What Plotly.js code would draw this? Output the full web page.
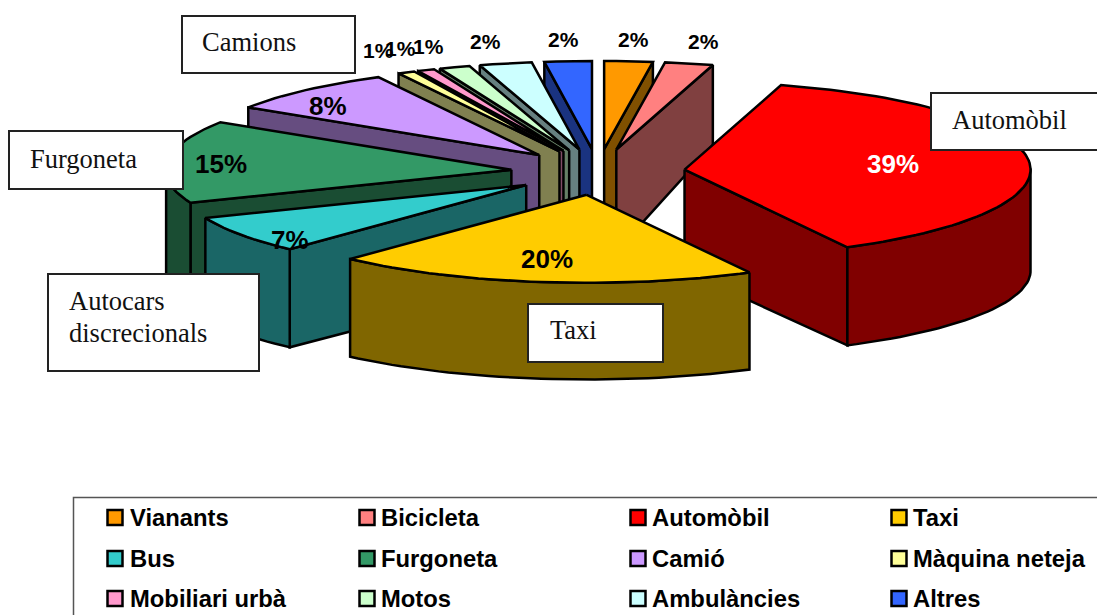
<!DOCTYPE html>
<html>
<head>
<meta charset="utf-8">
<script src="https://cdn.plot.ly/plotly-3.0.1.min.js"></script>
<style>html,body{margin:0;padding:0;background:#fff;overflow:hidden}#chart{width:1097px;height:615px}</style>
</head>
<body>
<div id="chart"></div>
<script>
// ---- data ----
var categories = ['Vianants','Bicicleta','Automòbil','Taxi','Bus','Furgoneta','Camió','Màquina neteja','Mobiliari urbà','Motos','Ambulàncies','Altres'];
var percents   = [2,2,39,20,7,15,8,1,1,1,2,2];

// ---- styles ----
var topColors  = ['#FF9900','#FF8080','#FF0000','#FFCC00','#33CCCC','#339966','#CC99FF','#FFFF99','#FF99CC','#CCFFCC','#CCFFFF','#3366FF'];
var wallColors = ['#805000','#804040','#800000','#806600','#1A6666','#1A4D33','#664D80','#808050','#804D66','#668066','#668080','#1A3380'];

// ---- projection of the exploded 3-D pie ----
var center = {x:598, y:172}, radius = {x:346, y:88}, pull = {x:87, y:23};
var warpIn  = [0,4,43,70,85,93,95,96,98,100];        // perspective foreshortening of the angle
var warpOut = [0,4.5,42.2,68.9,84.1,92.3,93.9,95.35,97.8,100];
function warp(p){
  for (var i=1;i<warpIn.length;i++) if (p<=warpIn[i]) {
    return warpOut[i-1]+(p-warpIn[i-1])/(warpIn[i]-warpIn[i-1])*(warpOut[i]-warpOut[i-1]);
  }
  return p;
}
function depth(y){ return y<=150 ? 79+(y-62)*23/88 : 102-(y-150)*0.04; }
function rad(p){ return warp(p)*3.6*Math.PI/180; }
function rimPoint(a,p){ var t=rad(p); return {x:a.x+radius.x*Math.sin(t), y:a.y-radius.y*Math.cos(t)}; }
function drop(pt){ return {x:pt.x, y:pt.y+depth(pt.y)}; }
function arc(a,p0,p1){ var out=[], n=Math.max(2,Math.ceil((p1-p0)*2));
  for (var i=0;i<=n;i++) out.push(rimPoint(a,p0+(p1-p0)*i/n)); return out; }

var starts=[], sum=0;
percents.forEach(function(v){ starts.push(sum); sum+=v; });

function poly(pts,color,name){
  var xs=pts.map(function(q){return q.x}), ys=pts.map(function(q){return q.y});
  xs.push(xs[0]); ys.push(ys[0]);
  return {type:'scatter',mode:'lines',x:xs,y:ys,fill:'toself',fillcolor:color,name:name,
    line:{color:'#000',width:2.5,shape:'linear'},hoverinfo:'name',showlegend:false};
}

var traces=[];
// back to front
var order=[11,0,1,10,9,8,7,6,5,2,4,3];
order.forEach(function(i){
  var p0=starts[i], p1=starts[i]+percents[i], name=categories[i];
  var midA=rad((p0+p1)/2);
  var apex={x:center.x+pull.x*Math.sin(midA), y:center.y-pull.y*Math.cos(midA)};
  var a0=warp(p0)*3.6, a1=warp(p1)*3.6;
  if (a0>=180 && a0<360) { // left radial wall
    var s=rimPoint(apex,p0);
    traces.push(poly([apex,s,drop(s),drop(apex)],wallColors[i],name));
  }
  if (a1>0 && a1<=180) {   // right radial wall
    var e=rimPoint(apex,p1);
    traces.push(poly([apex,e,drop(e),drop(apex)],wallColors[i],name));
  }
  var lo=Math.max(p0,25), hi=Math.min(p1,75);
  if (hi>lo) {             // outer rim wall
    var upper=arc(apex,lo,hi), lower=upper.map(drop).reverse();
    traces.push(poly(upper.concat(lower),wallColors[i],name));
  }
  traces.push(poly([apex].concat(arc(apex,p0,p1)),topColors[i],name));
});

// ---- percentage labels ----
var pctX=[633,703,893,547,290,221,328,378,400,428,485,563], pctY=[39,41,164,259,240,164,106,50,48,46,41,39];
var pctSize=[21,21,26,26,26,26,26,21,21,21,21,21];
var annotations=percents.map(function(v,i){
  return {xref:'x',yref:'y',x:pctX[i],y:pctY[i],text:'<b>'+v+'%</b>',showarrow:false,
    font:{family:'"Liberation Sans",Arial,sans-serif',size:pctSize[i],color:i===2?'#fff':'#000'}};
});

// ---- legend as a grid of swatches ----
var legendColX=[115,367,638,899], legendRowY=[517.5,558.5,598.5], legendTextX=[130,381,652,913];
categories.forEach(function(c,i){
  var col=i%4, row=Math.floor(i/4);
  traces.push({type:'scatter',mode:'markers',x:[legendColX[col]],y:[legendRowY[row]],
    marker:{symbol:'square',size:15,color:topColors[i],line:{color:'#000',width:2.5}},
    hoverinfo:'skip',showlegend:false,name:c});
  annotations.push({xref:'x',yref:'y',x:legendTextX[col],y:legendRowY[row],text:'<b>'+c+'</b>',showarrow:false,
    xanchor:'left',yanchor:'middle',xshift:-2,font:{family:'"Liberation Sans",Arial,sans-serif',size:23.8,color:'#000'}});
});

// ---- text boxes ----
var boxTexts=['Camions','Furgoneta','Autocars','discrecionals','Taxi','Automòbil'];
var boxTextX=[202,30,69,69,550,952], boxTextY=[42,159,301,333,330,120];
boxTexts.forEach(function(t,i){
  annotations.push({xref:'x',yref:'y',x:boxTextX[i],y:boxTextY[i],text:t,showarrow:false,xanchor:'left',yanchor:'middle',
    xshift:-2,font:{family:'"Liberation Serif","Times New Roman",serif',size:26.5,color:'#111'}});
});
var boxX0=[182,9,48,528,931], boxX1=[355,183,259,663,1110], boxY0=[16,131,274,304,93], boxY1=[73,189,371,362,150];
var shapes=boxX0.map(function(x,i){
  return {type:'rect',xref:'x',yref:'y',x0:x,x1:boxX1[i],y0:boxY0[i],y1:boxY1[i],layer:'above',
    fillcolor:'#fff',line:{color:'#222',width:2}};
});
shapes.push({type:'rect',xref:'x',yref:'y',x0:73.5,x1:1200,y0:497.5,y1:700,layer:'below',
  fillcolor:'rgba(0,0,0,0)',line:{color:'#555',width:1.5}});

var axis={visible:false,fixedrange:true,showgrid:false,zeroline:false};
Plotly.newPlot('chart',traces,{
  width:1097,height:615,margin:{l:0,r:0,t:0,b:0},
  paper_bgcolor:'#fff',plot_bgcolor:'#fff',showlegend:false,
  xaxis:Object.assign({range:[0,1097]},axis),
  yaxis:Object.assign({range:[615,0]},axis),
  shapes:shapes,annotations:annotations
},{displayModeBar:false,staticPlot:false});
</script>
</body>
</html>
